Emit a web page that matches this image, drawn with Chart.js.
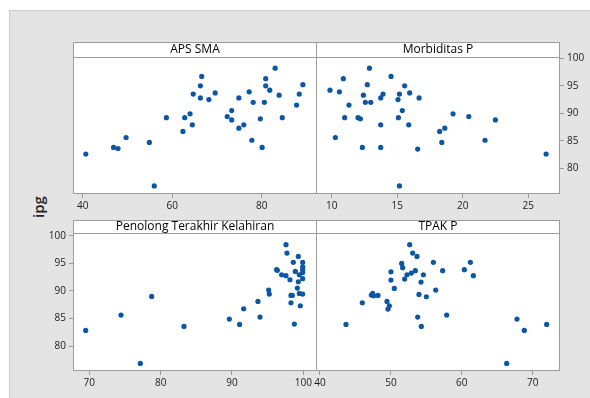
<!DOCTYPE html>
<html>
<head>
<meta charset="utf-8">
<script src="https://cdn.jsdelivr.net/npm/chart.js@4.4.1/dist/chart.umd.min.js"></script>
<style>
body { margin: 0; background: #fff; width: 590px; height: 398px; overflow: hidden; position: relative; font-family: 'Open Sans', sans-serif; }
#bg { position: absolute; left: 9px; top: 10px; width: 600px; height: 400px; background: #e4e4e4; border-left: 1px solid #cdcdcd; border-top: 1px solid #cdcdcd; }
canvas { position: absolute; }
#ylab { position: absolute; left: 38px; top: 207px; transform: translate(-50%, -50%) rotate(-90deg); font-size: 15px; font-weight: 600; color: #222; }
</style>
</head>
<body>
<div id="bg"></div>
<div id="ylab">ipg</div>
<canvas id="c1"></canvas>
<canvas id="c2"></canvas>
<canvas id="c3"></canvas>
<canvas id="c4"></canvas>
<script>
// x values per panel and the matching ipg values
const apsSma = [40.7, 46.9, 47.9, 49.7, 54.9, 56.0, 58.7, 62.4, 62.8, 64.0, 64.5, 64.7, 66.3, 66.6, 66.3, 68.2, 69.6, 72.3, 73.3, 73.3, 74.9, 74.9, 76.0, 77.2, 78.1, 77.8, 79.7, 80.1, 80.6, 80.9, 80.9, 81.8, 83.0, 83.9, 84.6, 87.8, 88.4, 89.2]
const ipgApsSma = [82.6, 83.8, 83.6, 85.6, 84.7, 76.8, 89.2, 86.7, 89.2, 89.9, 87.9, 93.5, 95.0, 96.7, 92.8, 92.5, 93.7, 89.4, 90.5, 88.8, 92.8, 87.3, 87.9, 93.9, 92.0, 85.1, 89.0, 83.8, 92.0, 96.3, 95.0, 94.2, 98.2, 93.3, 89.2, 91.5, 93.5, 95.2]

const morbiditas = [9.87, 10.28, 10.59, 10.89, 10.99, 11.32, 12.01, 12.19, 12.34, 12.42, 12.57, 12.72, 12.88, 12.98, 13.74, 13.74, 13.74, 13.92, 14.53, 15.06, 15.09, 15.17, 15.17, 15.39, 15.57, 15.88, 15.95, 16.56, 16.67, 18.24, 18.40, 18.63, 19.26, 20.46, 21.70, 22.49, 26.36]
const ipgMorbiditas = [94.2, 85.6, 93.9, 96.3, 89.2, 91.5, 89.2, 89.0, 83.8, 93.3, 92.0, 95.2, 98.2, 92.0, 92.8, 87.9, 83.8, 93.5, 96.7, 92.5, 89.2, 93.5, 76.8, 90.5, 95.0, 87.9, 93.7, 83.5, 92.8, 86.7, 84.7, 87.3, 89.9, 89.4, 85.1, 88.8, 82.6]

const penolong = [69.49, 74.44, 77.15, 78.74, 83.27, 89.63, 91.07, 91.64, 93.64, 93.93, 95.14, 95.23, 96.26, 96.36, 96.96, 97.57, 97.71, 97.57, 98.13, 98.27, 98.46, 98.27, 98.60, 98.74, 98.88, 99.16, 99.30, 99.30, 99.44, 99.44, 99.58, 99.91, 99.91, 99.91, 99.91, 99.91, 99.91]
const ipgPenolong = [82.84, 85.62, 76.86, 89.00, 83.56, 84.89, 83.93, 86.77, 88.10, 85.26, 90.15, 89.43, 93.84, 93.72, 92.93, 98.37, 96.86, 92.75, 92.02, 89.18, 89.18, 87.85, 95.17, 83.99, 93.53, 90.51, 96.25, 91.66, 92.93, 89.55, 87.31, 95.17, 94.38, 93.90, 93.35, 92.21, 89.43]

const tpak = [43.67, 45.97, 47.24, 47.43, 47.57, 48.18, 49.45, 49.78, 49.59, 50.01, 50.01, 50.48, 51.52, 51.66, 51.94, 52.27, 52.65, 52.88, 53.07, 53.45, 53.68, 53.78, 53.96, 54.25, 54.29, 54.58, 55.00, 55.99, 56.32, 57.30, 57.87, 60.36, 61.21, 61.63, 66.33, 67.79, 68.82, 71.97]
const ipgTpak = [83.93, 87.85, 89.24, 89.55, 89.12, 89.18, 88.10, 87.31, 86.71, 93.47, 91.96, 90.45, 94.98, 94.20, 92.15, 92.93, 98.37, 93.23, 96.86, 93.66, 96.25, 85.26, 89.37, 91.60, 83.56, 92.93, 88.94, 95.17, 90.15, 93.66, 85.62, 93.84, 95.17, 92.75, 76.86, 84.89, 82.84, 83.93]

const panelTitles = ["APS SMA", "Morbiditas P", "Penolong Terakhir Kelahiran", "TPAK P"]
const ipgTicks = [80, 85, 90, 95, 100]
const apsTicks = [40, 60, 80]
const morbTicks = [10, 15, 20, 25]
const penolongTicks = [70, 80, 90, 100]
const tpakTicks = [40, 50, 60, 70]

const PAD = 8
const XH = 24
const YW = 32
const FRAME = '#9c9c9c'

// white plot area, grey frame and the title strip on top
function framePlugin(title, shareLeft) {
  return {
    id: 'frame',
    beforeDraw(chart) {
      const a = chart.chartArea, ctx = chart.ctx
      ctx.save()
      ctx.fillStyle = '#fff'
      ctx.fillRect(a.left, a.top, a.right - a.left, a.bottom - a.top)
      ctx.restore()
    },
    afterDraw(chart) {
      const a = chart.chartArea, ctx = chart.ctx
      const h = chart.options.layout.padding.top - PAD
      const l = shareLeft ? a.left - 1 : a.left
      ctx.save()
      ctx.strokeStyle = FRAME
      ctx.lineWidth = 1
      ctx.strokeRect(l + 0.5, a.top + 0.5, a.right - l - 1, a.bottom - a.top - 1)
      ctx.fillStyle = '#fff'
      ctx.fillRect(l, a.top - h, a.right - l, h)
      ctx.strokeRect(l + 0.5, a.top - h + 0.5, a.right - l - 1, h)
      ctx.fillStyle = '#000'
      ctx.font = "12px 'Open Sans', sans-serif"
      ctx.textAlign = 'center'
      ctx.textBaseline = 'middle'
      ctx.fillText(title, (l + a.right) / 2, a.top - h / 2 + 0.5)
      ctx.restore()
    }
  }
}

function panel(id, title, xs, ys, xTicks, xr, yr, rect, yPos, shareLeft) {
  const c = document.getElementById(id)
  const yW = yPos ? YW : 0
  c.width = rect.r - rect.l + 2 * PAD + yW
  c.height = rect.b - rect.t + rect.h + 2 * PAD + XH
  c.style.left = (rect.l - PAD - (yPos === 'left' ? yW : 0)) + 'px'
  c.style.top = (rect.t - rect.h - PAD) + 'px'
  new Chart(c, {
    type: 'scatter',
    data: {
      datasets: [{
        data: xs.map((x, i) => ({ x: x, y: ys[i] })),
        backgroundColor: '#0b57a4',
        borderWidth: 0,
        pointRadius: 2.6,
        pointHoverRadius: 2.6
      }]
    },
    options: {
      responsive: false,
      animation: false,
      events: [],
      layout: { padding: { left: PAD, right: PAD, top: PAD + rect.h, bottom: PAD } },
      plugins: { legend: { display: false }, tooltip: { enabled: false } },
      scales: {
        x: {
          type: 'linear', min: xr[0], max: xr[1],
          afterBuildTicks: s => { s.ticks = xTicks.map(v => ({ value: v })) },
          afterFit: s => { s.height = XH },
          grid: { drawOnChartArea: false, tickLength: 4, color: '#999' },
          border: { display: false },
          ticks: { font: { size: 10 }, color: '#1a1a1a', padding: 2, maxRotation: 0, autoSkip: false }
        },
        y: {
          type: 'linear', display: !!yPos, position: yPos || 'left', min: yr[0], max: yr[1],
          afterBuildTicks: s => { s.ticks = ipgTicks.map(v => ({ value: v })) },
          afterFit: s => { s.width = yW },
          grid: { drawOnChartArea: false, tickLength: 4, color: '#999' },
          border: { display: false },
          ticks: { font: { size: 10 }, color: '#1a1a1a', padding: 3, autoSkip: false }
        }
      }
    },
    plugins: [framePlugin(title, shareLeft)]
  })
}

Chart.defaults.font.family = "'Open Sans', sans-serif"

panel('c1', panelTitles[0], apsSma, ipgApsSma, apsTicks, [37.84, 92.36], [75.33, 100.24], { l: 73, r: 317, t: 57, b: 194, h: 15 }, null, false)
panel('c2', panelTitles[1], morbiditas, ipgMorbiditas, morbTicks, [8.88, 27.42], [75.33, 100.24], { l: 317, r: 560, t: 57, b: 194, h: 15 }, 'right', true)
panel('c3', panelTitles[2], penolong, ipgPenolong, penolongTicks, [67.71, 101.92], [75.49, 100.49], { l: 73, r: 317, t: 233, b: 371, h: 13 }, 'left', false)
panel('c4', panelTitles[3], tpak, ipgTpak, tpakTicks, [39.58, 73.85], [75.49, 100.49], { l: 317, r: 560, t: 233, b: 371, h: 13 }, null, true)
</script>
</body>
</html>
